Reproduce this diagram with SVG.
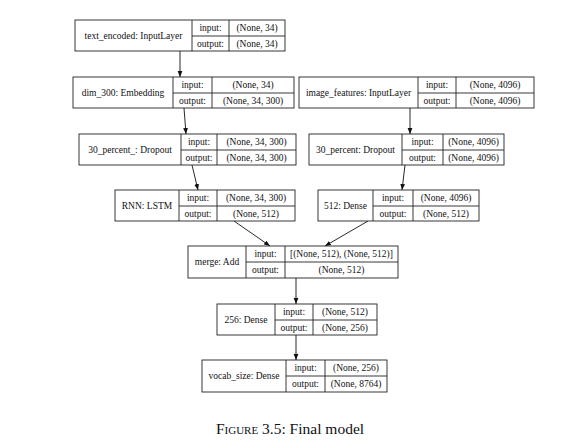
<svg xmlns="http://www.w3.org/2000/svg" width="573" height="448" viewBox="0 0 573 448">
<style>
.b{fill:#fff;stroke:#222;stroke-width:0.9}
.l{stroke:#222;stroke-width:0.9}
text{font-family:"Liberation Serif","Times New Roman",serif;font-size:9.5px;fill:#111;text-anchor:middle}
.e{stroke:#111;stroke-width:0.9;fill:none}
.cap{font-size:15.5px;text-anchor:middle}
.sc{font-variant:small-caps}
</style>
<defs>
<marker id="ah" viewBox="0 0 10 10" refX="10" refY="5" markerWidth="6" markerHeight="6" markerUnits="userSpaceOnUse" orient="auto">
<path d="M0,1 L10,5 L0,9 z" fill="#111"/>
</marker>
</defs>
<rect width="573" height="448" fill="#fff"/>
<g id="connectors">
<line class="e" x1="180" y1="51" x2="180" y2="77" marker-end="url(#ah)"/>
<line class="e" x1="184" y1="108" x2="186" y2="134" marker-end="url(#ah)"/>
<line class="e" x1="410" y1="108" x2="410" y2="134" marker-end="url(#ah)"/>
<line class="e" x1="192" y1="165" x2="198" y2="190" marker-end="url(#ah)"/>
<line class="e" x1="405" y1="165" x2="402" y2="190" marker-end="url(#ah)"/>
<line class="e" x1="234" y1="221" x2="270" y2="246" marker-end="url(#ah)"/>
<line class="e" x1="368" y1="221" x2="325" y2="246" marker-end="url(#ah)"/>
<line class="e" x1="296" y1="278" x2="296" y2="304" marker-end="url(#ah)"/>
<line class="e" x1="296" y1="335" x2="296" y2="360" marker-end="url(#ah)"/>
</g>
<g id="n1">
<rect class="b" x="75" y="20" width="210" height="31"/>
<line class="l" x1="192" y1="20" x2="192" y2="51"/><line class="l" x1="229" y1="20" x2="229" y2="51"/><line class="l" x1="192" y1="36" x2="285" y2="36"/>
<text x="133.5" y="39">text_encoded: InputLayer</text>
<text x="210.5" y="31">input:</text><text x="210.5" y="47">output:</text>
<text x="257" y="31">(None, 34)</text><text x="257" y="47">(None, 34)</text>
</g>
<g id="n2">
<rect class="b" x="73" y="77" width="221" height="31"/>
<line class="l" x1="173" y1="77" x2="173" y2="108"/><line class="l" x1="212" y1="77" x2="212" y2="108"/><line class="l" x1="173" y1="93" x2="294" y2="93"/>
<text x="123" y="96">dim_300: Embedding</text>
<text x="192.5" y="88">input:</text><text x="192.5" y="104">output:</text>
<text x="253" y="88">(None, 34)</text><text x="253" y="104">(None, 34, 300)</text>
</g>
<g id="n3">
<rect class="b" x="299" y="77" width="235" height="31"/>
<line class="l" x1="418" y1="77" x2="418" y2="108"/><line class="l" x1="456" y1="77" x2="456" y2="108"/><line class="l" x1="418" y1="93" x2="534" y2="93"/>
<text x="358.5" y="96">image_features: InputLayer</text>
<text x="437" y="88">input:</text><text x="437" y="104">output:</text>
<text x="495" y="88">(None, 4096)</text><text x="495" y="104">(None, 4096)</text>
</g>
<g id="n4">
<rect class="b" x="79" y="134" width="217" height="31"/>
<line class="l" x1="181" y1="134" x2="181" y2="165"/><line class="l" x1="217" y1="134" x2="217" y2="165"/><line class="l" x1="181" y1="150" x2="296" y2="150"/>
<text x="130" y="153">30_percent_: Dropout</text>
<text x="199" y="145">input:</text><text x="199" y="161">output:</text>
<text x="256.5" y="145">(None, 34, 300)</text><text x="256.5" y="161">(None, 34, 300)</text>
</g>
<g id="n5">
<rect class="b" x="309" y="134" width="195" height="31"/>
<line class="l" x1="402" y1="134" x2="402" y2="165"/><line class="l" x1="443" y1="134" x2="443" y2="165"/><line class="l" x1="402" y1="150" x2="504" y2="150"/>
<text x="355.5" y="153">30_percent: Dropout</text>
<text x="422.5" y="145">input:</text><text x="422.5" y="161">output:</text>
<text x="473.5" y="145">(None, 4096)</text><text x="473.5" y="161">(None, 4096)</text>
</g>
<g id="n6">
<rect class="b" x="115" y="190" width="180" height="31"/>
<line class="l" x1="179" y1="190" x2="179" y2="221"/><line class="l" x1="217" y1="190" x2="217" y2="221"/><line class="l" x1="179" y1="206" x2="295" y2="206"/>
<text x="147" y="209">RNN: LSTM</text>
<text x="198" y="201">input:</text><text x="198" y="217">output:</text>
<text x="256" y="201">(None, 34, 300)</text><text x="256" y="217">(None, 512)</text>
</g>
<g id="n7">
<rect class="b" x="318" y="190" width="161" height="31"/>
<line class="l" x1="373" y1="190" x2="373" y2="221"/><line class="l" x1="413" y1="190" x2="413" y2="221"/><line class="l" x1="373" y1="206" x2="479" y2="206"/>
<text x="345.5" y="209">512: Dense</text>
<text x="393" y="201">input:</text><text x="393" y="217">output:</text>
<text x="446" y="201">(None, 4096)</text><text x="446" y="217">(None, 512)</text>
</g>
<g id="n8">
<rect class="b" x="188" y="246" width="210" height="32"/>
<line class="l" x1="246" y1="246" x2="246" y2="278"/><line class="l" x1="285" y1="246" x2="285" y2="278"/><line class="l" x1="246" y1="262" x2="398" y2="262"/>
<text x="217" y="265">merge: Add</text>
<text x="265.5" y="257">input:</text><text x="265.5" y="273">output:</text>
<text x="341.5" y="257">[(None, 512), (None, 512)]</text><text x="341.5" y="273">(None, 512)</text>
</g>
<g id="n9">
<rect class="b" x="217" y="304" width="160" height="31"/>
<line class="l" x1="275" y1="304" x2="275" y2="335"/><line class="l" x1="313" y1="304" x2="313" y2="335"/><line class="l" x1="275" y1="320" x2="377" y2="320"/>
<text x="246" y="323">256: Dense</text>
<text x="294" y="315">input:</text><text x="294" y="331">output:</text>
<text x="345" y="315">(None, 512)</text><text x="345" y="331">(None, 256)</text>
</g>
<g id="n10">
<rect class="b" x="202" y="360" width="185" height="32"/>
<line class="l" x1="286" y1="360" x2="286" y2="392"/><line class="l" x1="325" y1="360" x2="325" y2="392"/><line class="l" x1="286" y1="376" x2="387" y2="376"/>
<text x="244" y="379">vocab_size: Dense</text>
<text x="305.5" y="371">input:</text><text x="305.5" y="387">output:</text>
<text x="356" y="371">(None, 256)</text><text x="356" y="387">(None, 8764)</text>
</g>
<text class="cap" x="290" y="434"><tspan class="sc">Figure</tspan> 3.5: Final model</text>
</svg>
